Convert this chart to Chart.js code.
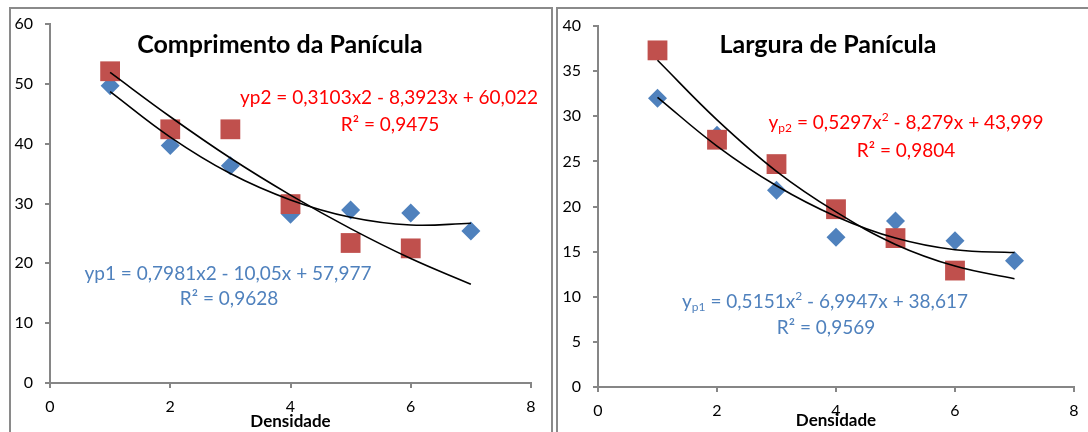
<!DOCTYPE html>
<html>
<head>
<meta charset="utf-8">
<script src="https://cdn.jsdelivr.net/npm/chart.js@4/dist/chart.umd.min.js"></script>
<style>
  html, body { margin: 0; padding: 0; background: #fff; }
  body { width: 1088px; height: 432px; position: relative; overflow: hidden; }
  .panel { position: absolute; border: 2px solid #8a8a8a; box-sizing: border-box; }
  canvas { position: absolute; top: 0; }
</style>
</head>
<body>
<div class="panel" style="left:9px; top:7px; width:544px; height:460px;"></div>
<div class="panel" style="left:556px; top:7px; width:600px; height:460px;"></div>
<canvas id="c1" width="552" height="432" style="left:0px; width:552px; height:432px;"></canvas>
<canvas id="c2" width="540" height="432" style="left:548px; width:540px; height:432px;"></canvas>
<script>
// ---- data ----
const densidade = [1, 2, 3, 4, 5, 6, 7];
const xTicks = [0, 2, 4, 6, 8];
const compTicks = [0, 10, 20, 30, 40, 50, 60];
const largTicks = [0, 5, 10, 15, 20, 25, 30, 35, 40];

// Comprimento da Panícula
const compP1 = [49.7, 39.7, 36.3, 28.2, 28.9, 28.4, 25.4];
const compP2 = [52.1, 42.4, 42.4, 29.9, 23.4, 22.5];
const compFit1 = [48.7, 41.1, 35.0, 30.6, 27.7, 26.4, 26.7];
const compFit2 = [51.9, 44.5, 37.6, 31.4, 25.8, 20.8, 16.5];

// Largura de Panícula
const largP1 = [32.0, 27.9, 21.8, 16.6, 18.4, 16.2, 14.0];
const largP2 = [37.3, 27.4, 24.7, 19.7, 16.5, 12.9];
const largFit1 = [32.1, 26.7, 22.3, 18.9, 16.5, 15.2, 14.9];
const largFit2 = [36.2, 29.6, 23.9, 19.4, 15.8, 13.4, 12.0];

const titles = ['Comprimento da Panícula', 'Largura de Panícula'];
const axisTitle = 'Densidade';

Chart.defaults.font.family = 'Lato';
Chart.defaults.color = '#000';

const BLUE = '#4F81BD', RED = '#C0504D', TXT_RED = '#FF0000', TXT_BLUE = '#4F81BD';
const FONT = 'Lato';

function pts(xs, ys) { return ys.map((y, i) => ({ x: xs[i], y })); }

function textPlugin(items) {
  return {
    id: 'texts',
    afterDraw(chart) {
      const ctx = chart.ctx;
      for (const item of items) {
        ctx.save();
        let total = 0;
        const runs = item.runs.map(r => {
          const f = (r.bold ? 'bold ' : '') + r.size + 'px ' + FONT;
          ctx.font = f;
          const w = ctx.measureText(r.t).width;
          total += w;
          return { t: r.t, f, w, dy: r.dy || 0 };
        });
        let x = item.x - total / 2;
        ctx.fillStyle = item.color;
        ctx.textBaseline = 'middle';
        ctx.textAlign = 'left';
        for (const r of runs) {
          ctx.font = r.f;
          ctx.fillText(r.t, x, item.y + r.dy);
          x += r.w;
        }
        ctx.restore();
      }
    }
  };
}

function makeChart(id, cfg) {
  const datasets = [
    { label: 'fit1', data: pts(densidade, cfg.fit1), showLine: true, borderColor: '#000', borderWidth: 1.6,
      pointRadius: 0, tension: 0.4, fill: false, order: 0 },
    { label: 'fit2', data: pts(densidade, cfg.fit2), showLine: true, borderColor: '#000', borderWidth: 1.6,
      pointRadius: 0, tension: 0.4, fill: false, order: 0 },
    { label: 'p2', data: pts(densidade, cfg.p2), pointStyle: 'rect', pointRadius: 14, pointHoverRadius: 14,
      backgroundColor: RED, borderColor: RED, borderWidth: 0, order: 1 },
    { label: 'p1', data: pts(densidade, cfg.p1), pointStyle: 'rectRot', pointRadius: 9.5, pointHoverRadius: 9.5,
      backgroundColor: BLUE, borderColor: BLUE, borderWidth: 0, order: 2 }
  ];
  return new Chart(document.getElementById(id), {
    type: 'scatter',
    data: { datasets },
    options: {
      responsive: false,
      animation: false,
      devicePixelRatio: 1,
      layout: { padding: { top: cfg.top, right: cfg.right, left: 0, bottom: 0 } },
      plugins: { legend: { display: false }, tooltip: { enabled: false } },
      scales: {
        x: {
          type: 'linear', min: 0, max: 8,
          afterBuildTicks: s => { s.ticks = xTicks.map(v => ({ value: v })); },
          afterFit: s => { s.height = cfg.xh; },
          ticks: { font: { size: 16 }, color: '#000', padding: 9, maxRotation: 0 },
          grid: { drawOnChartArea: false, drawTicks: true, tickLength: 5, color: '#868686', lineWidth: 2 },
          border: { color: '#868686', width: 2 },
          title: { display: true, text: axisTitle, font: { size: 17, weight: 'bold' }, color: '#000',
                   padding: { top: 0, bottom: cfg.tpb } }
        },
        y: {
          type: 'linear', min: 0, max: cfg.ymax,
          afterBuildTicks: s => { s.ticks = cfg.yTicks.map(v => ({ value: v })); },
          afterFit: s => { s.width = 50; },
          ticks: { font: { size: 16 }, color: '#000', padding: 12 },
          grid: { drawOnChartArea: false, drawTicks: true, tickLength: 5, color: '#868686', lineWidth: 2 },
          border: { color: '#868686', width: 2 }
        }
      }
    },
    plugins: [textPlugin(cfg.texts)]
  });
}

makeChart('c1', {
  p1: compP1, p2: compP2, fit1: compFit1, fit2: compFit2,
  ymax: 60, yTicks: compTicks, top: 24, right: 21, xh: 49, tpb: 0,
  texts: [
    { x: 280, y: 45, color: '#000', runs: [{ t: titles[0], size: 25, bold: true }] },
    { x: 389, y: 98, color: TXT_RED, runs: [{ t: 'yp2 = 0,3103x2 - 8,3923x + 60,022', size: 19 }] },
    { x: 390, y: 125, color: TXT_RED, runs: [{ t: 'R² = 0,9475', size: 19 }] },
    { x: 228, y: 274, color: TXT_BLUE, runs: [{ t: 'yp1 = 0,7981x2 - 10,05x + 57,977', size: 19 }] },
    { x: 229, y: 299, color: TXT_BLUE, runs: [{ t: 'R² = 0,9628', size: 19 }] }
  ]
});

makeChart('c2', {
  p1: largP1, p2: largP2, fit1: largFit1, fit2: largFit2,
  ymax: 40, yTicks: largTicks, top: 26, right: 14, xh: 45, tpb: 1,
  texts: [
    { x: 280, y: 45, color: '#000', runs: [{ t: titles[1], size: 25, bold: true }] },
    { x: 358, y: 123, color: TXT_RED, runs: [
      { t: 'y', size: 19 }, { t: 'p2', size: 12, dy: 5 }, { t: ' = 0,5297x', size: 19 },
      { t: '2', size: 12, dy: -6 }, { t: ' - 8,279x + 43,999', size: 19 }] },
    { x: 358, y: 151, color: TXT_RED, runs: [{ t: 'R² = 0,9804', size: 19 }] },
    { x: 277, y: 302, color: TXT_BLUE, runs: [
      { t: 'y', size: 19 }, { t: 'p1', size: 12, dy: 5 }, { t: ' = 0,5151x', size: 19 },
      { t: '2', size: 12, dy: -6 }, { t: ' - 6,9947x + 38,617', size: 19 }] },
    { x: 278, y: 328, color: TXT_BLUE, runs: [{ t: 'R² = 0,9569', size: 19 }] }
  ]
});
</script>
</body>
</html>
